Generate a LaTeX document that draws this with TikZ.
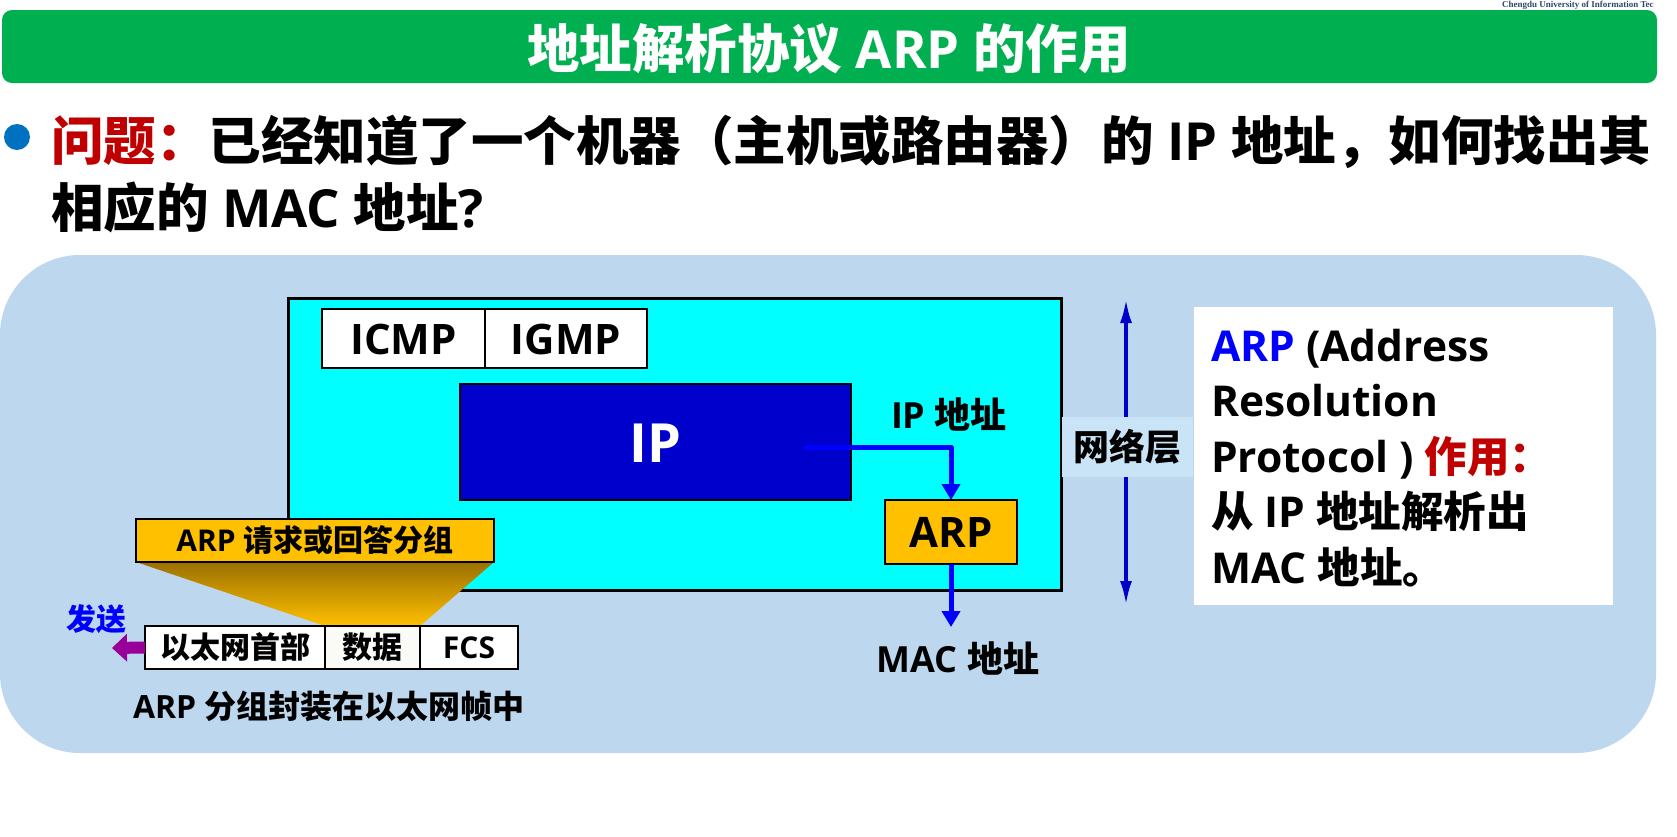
\documentclass[tikz,border=0pt]{standalone}
\usepackage{fontspec}
\setmainfont{Open Sans}
\newfontfamily\zh{Noto Sans CJK SC}
\newfontfamily\crestfont{Liberation Serif}
\usetikzlibrary{arrows.meta}

\definecolor{titlegreen}{RGB}{0,176,80}
\definecolor{panelblue}{RGB}{189,215,238}
\definecolor{bandblue}{RGB}{202,228,247}
\definecolor{netcyan}{RGB}{0,255,255}
\definecolor{ipblue}{RGB}{0,0,204}
\definecolor{gold}{RGB}{255,192,0}
\definecolor{darkgold}{RGB}{155,112,0}
\definecolor{qred}{RGB}{192,0,0}
\definecolor{bulletblue}{RGB}{0,112,192}
\definecolor{sendpurple}{RGB}{153,0,153}
\definecolor{arrowblue}{RGB}{0,0,255}
\definecolor{crestgray}{RGB}{45,75,105}
\definecolor{datafill}{RGB}{250,250,247}

\newcommand\fs[1]{\fontsize{#1}{#1}\selectfont\bfseries}

\pgfdeclarelayer{bg}
\pgfdeclarelayer{fan}
\pgfsetlayers{bg,fan,main}

\begin{document}
\begin{tikzpicture}[x=1pt,y=-1pt,
  every node/.style={inner sep=0pt, outer sep=0pt},
  % fixed text height so that labels sit centred in their boxes
  tb/.style={font=\fs{#1}, text height=0.75*#1pt, text depth=0pt},
  cell/.style={draw=black, line width=2pt, fill=white, anchor=north west},
  flow/.style={draw=arrowblue, line width=5pt, line join=round,
    -{Triangle[width=18pt,length=16pt]}},
  layerarrow/.style={draw=ipblue, line width=3.5pt,
    {Latex[width=12pt,length=24pt]}-{Latex[width=12pt,length=24pt]}},
  sendarrow/.style={draw=sendpurple, line width=12pt,
    -{Triangle[width=27pt,length=15pt]}}]
\useasboundingbox (0,0) rectangle (1677,836);

% panel and network layer box
\begin{pgfonlayer}{bg}
\fill[white] (0,0) rectangle (1677,836);
\node[fill=panelblue, rounded corners=80pt, minimum width=1656pt,
  minimum height=498pt, anchor=north west] (panel) at (0,255) {};
\node[draw=black, line width=3pt, fill=netcyan, minimum width=773pt,
  minimum height=292pt, anchor=north west] (net) at (288,298) {};
\end{pgfonlayer}

% heading
\node[fill=titlegreen, rounded corners=10pt, minimum width=1655pt,
  minimum height=73pt, anchor=north west] (titlebar) at (2,10) {};
\node[anchor=base, text=white, font=\fs{52.5}] (title) at (829,68)
  {{\zh 地址解析协议} ARP {\zh 的作用}};
\node[anchor=base west, text=crestgray, font=\crestfont\fs{9}] (crest) at (1502,7.5)
  {Chengdu University of Information Tec};

% question
\node[circle, fill=bulletblue, minimum size=26pt] (bullet) at (17,137) {};
\node[anchor=base west, font=\fs{52.5}] (q1) at (51,160)
  {\textcolor{qred}{\zh 问题：}{\zh 已经知道了一个机器（主机或路由器）的} IP {\zh 地址，如何找出其}};
\node[anchor=base west, font=\fs{52.5}] (q2) at (51,227)
  {{\zh 相应的} MAC {\zh 地址}?};

\node[cell, minimum width=163pt, minimum height=59pt, tb=42] (icmp) at (322,309) {ICMP};
\node[cell, minimum width=162pt, minimum height=59pt, tb=42] (igmp) at (485,309) {IGMP};
\node[draw=black, line width=2pt, fill=ipblue, text=white, minimum width=391pt,
  minimum height=116pt, anchor=north west, tb=54] (ip) at (460,384) {IP};
\node[draw=black, line width=2pt, fill=gold, minimum width=132pt,
  minimum height=64pt, anchor=north west, tb=42] (arp) at (885,500) {ARP};

\node[anchor=base, font=\fs{36}] (ipaddr) at (949,428) {IP {\zh 地址}};
\node[anchor=base, font=\fs{36}] (mac) at (958,672) {MAC {\zh 地址}};

\coordinate (ipout) at (804,447);
\coordinate (macin) at (951,627);
\draw[flow] (ipout) -| (arp.north);
\draw[flow] (arp.south) -- (macin);

% layer marker
\coordinate (ltop) at (1126,299);
\coordinate (lbot) at (1126,605);
\draw[layerarrow] (ltop) -- (lbot);
\node[fill=bandblue, minimum width=131pt, minimum height=60pt,
  tb=36] (layer) at (1127.5,447) {\zh 网络层};

% explanation
\node[fill=white, minimum width=419pt, minimum height=298pt,
  anchor=north west] (note) at (1194,307) {};
\node[anchor=base west, font=\fs{42.5}] (r1) at (1211,361)
  {\textcolor{arrowblue}{ARP} (Address};
\node[anchor=base west, font=\fs{42.5}] (r2) at (1211,416.5) {Resolution};
\node[anchor=base west, font=\fs{42.5}] (r3) at (1211,472)
  {Protocol ) \textcolor{qred}{\zh 作用：}};
\node[anchor=base west, font=\fs{42.5}] (r4) at (1211,527.5)
  {{\zh 从} IP {\zh 地址解析出}};
\node[anchor=base west, font=\fs{42.5}] (r5) at (1211,583) {MAC {\zh 地址。}};

% ARP packet inside an Ethernet frame
\node[draw=black, line width=2.5pt, fill=gold, minimum width=358pt,
  minimum height=43pt, anchor=north west, tb=30] (req) at (136,519)
  {ARP {\zh 请求或回答分组}};
\node[cell, minimum width=180pt, minimum height=43pt, tb=30] (hdr) at (145,626) {\zh 以太网首部};
\node[cell, fill=datafill, minimum width=95pt, minimum height=43pt, tb=30] (data) at (325,626) {\zh 数据};
\node[cell, minimum width=98pt, minimum height=43pt, tb=30] (fcs) at (420,626) {FCS};

\begin{pgfonlayer}{fan}
\shade[top color=darkgold, bottom color=gold]
  (req.south west) -- (req.south east) -- (data.north east) -- (data.north west) -- cycle;
\end{pgfonlayer}

\coordinate (sendtip) at (112,648);
\draw[sendarrow] (hdr.west) -- (sendtip);
\node[anchor=base, text=arrowblue, font=\fs{30}] (send) at (96,630) {\zh 发送};
\node[anchor=base west, font=\fs{32}] (caption) at (133,718)
  {ARP {\zh 分组封装在以太网帧中}};
\end{tikzpicture}
\end{document}
